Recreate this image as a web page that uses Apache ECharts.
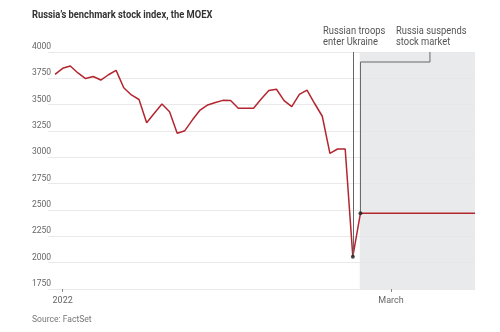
<!DOCTYPE html>
<html><head><meta charset="utf-8">
<script src="https://cdn.jsdelivr.net/npm/echarts@6/dist/echarts.min.js"></script>
<style>html,body{margin:0;padding:0;background:#fff}#c{width:500px;height:332px}</style>
</head><body><div id="c"></div>
<script>
// Trading days (Dec 30 2021 – Feb 25 2022), then calendar days while the market was suspended
const days = ['Dec 30',
 'Jan 3','Jan 4','Jan 5','Jan 6','Jan 7','Jan 10','Jan 11','Jan 12','Jan 13','Jan 14',
 'Jan 17','Jan 18','Jan 19','Jan 20','Jan 21','Jan 24','Jan 25','Jan 26','Jan 27','Jan 28','Jan 31',
 'Feb 1','Feb 2','Feb 3','Feb 4','Feb 7','Feb 8','Feb 9','Feb 10','Feb 11',
 'Feb 14','Feb 15','Feb 16','Feb 17','Feb 18','Feb 21','Feb 22','Feb 23','Feb 24','Feb 25',
 'Feb 26','Feb 27','Feb 28','Mar 1','Mar 2','Mar 3','Mar 4','Mar 5','Mar 6','Mar 7','Mar 8',
 'Mar 9','Mar 10','Mar 11','Mar 12'];
const moex = [3787,3845,3867,3801,3748,3767,3734,3784,3826,3661,
 3592,3549,3329,3419,3506,3433,3228,3253,3356,3449,
 3497,3521,3541,3540,3466,3466,3466,3553,3634,3646,
 3538,3481,3597,3639,3511,3390,3038,3079,3079,2057,2470,
 2470,2470,2470,2470,2470,2470,2470,2470,2470,2470,2470,2470,2470,2470,2470];
const yTicks = [1750,2000,2250,2500,2750,3000,3250,3500,3750,4000];
const xTickDays = ['Jan 3','Mar 1'];
const xTickLabels = ['2022','March'];
const invasionDay = 'Feb 24';
const suspendDay = 'Feb 25';
const lastDay = 'Mar 12';

const FONT = 'Roboto,sans-serif';
const idx = d => days.indexOf(d);
const lineData = moex.map((v,i)=>[i,v]);
const iInv = idx(invasionDay), iSus = idx(suspendDay), iEnd = idx(lastDay);
const xTickIdx = xTickDays.map(idx);
const yMin = yTicks[0], yMax = yTicks[yTicks.length-1];

const chart = echarts.init(document.getElementById('c'), null, {renderer:'canvas'});
chart.setOption({
  animation:false,
  backgroundColor:'#fff',
  grid:{left:48,right:25,top:52,bottom:43},
  xAxis:{type:'value',min:-0.92,max:iEnd,
    axisLine:{show:false},splitLine:{show:false},
    axisTick:{show:true,customValues:xTickIdx,length:3,lineStyle:{color:'#888'}},
    axisLabel:{customValues:xTickIdx,formatter:v=>xTickLabels[xTickIdx.indexOf(v)],
      color:'#666',fontFamily:FONT,fontSize:9,margin:7}},
  yAxis:{type:'value',min:yMin,max:yMax,interval:250,
    axisLine:{show:false},axisTick:{show:false},
    splitLine:{lineStyle:{color:'#e9e9e9',width:1}},
    axisLabel:{color:'#666',fontFamily:FONT,fontSize:8.5,align:'left',margin:16,
      verticalAlign:'bottom',lineHeight:10,formatter:v=>String(v)}},
  series:[
    {type:'line',data:lineData,symbol:'none',z:3,
      lineStyle:{color:'#b3262f',width:1.5},
      markArea:{silent:true,itemStyle:{color:'rgba(228,230,232,0.85)'},
        data:[[{coord:[iSus-0.1,yMax]},{coord:[iEnd,yMin]}]]},
      markLine:{silent:true,symbol:'none',label:{show:false},
        lineStyle:{color:'#666',width:1,type:'solid'},
        data:[[{coord:[iInv,yMax]},{coord:[iInv,moex[iInv]]}]]}
    },
    {type:'line',data:[[iSus,moex[iSus]],[iSus,3905],[49.1,3905],[49.1,yMax]],
      symbol:'none',z:2,lineStyle:{color:'#666',width:1}},
    {type:'scatter',data:[[iInv,moex[iInv]],[iSus,moex[iSus]]],symbolSize:4,z:5,
      itemStyle:{color:'#222'}}
  ],
  graphic:[
    {type:'text',x:32,y:10,scaleX:0.85,style:{text:"Russia\u2019s benchmark stock index, the MOEX",
      fontFamily:FONT,fontWeight:'bold',fontSize:11,fill:'#333'}},
    {type:'text',x:323,y:26,scaleX:0.85,style:{text:'Russian troops\nenter Ukraine',
      fontFamily:FONT,fontSize:11,lineHeight:11,fill:'#555'}},
    {type:'text',x:396,y:26,scaleX:0.85,style:{text:'Russia suspends\nstock market',
      fontFamily:FONT,fontSize:11,lineHeight:11,fill:'#555'}},
    {type:'text',x:32,y:315,scaleX:0.9,style:{text:'Source: FactSet',
      fontFamily:FONT,fontSize:9.5,fill:'#777'}}
  ]
});
</script></body></html>
